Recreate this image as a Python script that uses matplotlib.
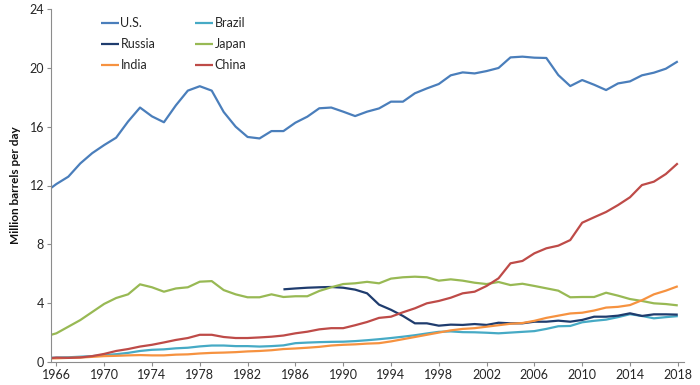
import numpy as np
import matplotlib
matplotlib.use("Agg")
import matplotlib.pyplot as plt

years = list(range(1965, 2019))

us = [11.5, 12.1, 12.6, 13.5, 14.2, 14.75, 15.25, 16.35, 17.3, 16.7,
      16.3, 17.45, 18.45, 18.75, 18.45, 17.0, 16.0, 15.3, 15.2, 15.7,
      15.7, 16.27, 16.68, 17.25, 17.3, 17.02, 16.72, 17.02, 17.24, 17.7,
      17.7, 18.27, 18.6, 18.9, 19.49, 19.69, 19.62, 19.78, 19.99, 20.71,
      20.76, 20.69, 20.67, 19.51, 18.76, 19.17, 18.85, 18.49, 18.94, 19.08,
      19.49, 19.67, 19.94, 20.44]

russia_from_1985 = [4.94, 5.0, 5.05, 5.08, 5.1, 5.05, 4.92, 4.67, 3.9, 3.55,
                    3.13, 2.63, 2.63, 2.47, 2.54, 2.52, 2.58, 2.52, 2.67, 2.63,
                    2.63, 2.74, 2.74, 2.81, 2.74, 2.86, 3.08, 3.08, 3.15, 3.31,
                    3.13, 3.24, 3.24, 3.22]
russia = [np.nan] * (len(years) - len(russia_from_1985)) + russia_from_1985

brazil = [0.28, 0.3, 0.32, 0.36, 0.4, 0.47, 0.53, 0.62, 0.75, 0.83,
          0.86, 0.93, 0.97, 1.06, 1.12, 1.12, 1.08, 1.08, 1.05, 1.08,
          1.13, 1.28, 1.32, 1.35, 1.37, 1.38, 1.42, 1.48, 1.55, 1.63,
          1.72, 1.82, 1.94, 2.05, 2.08, 2.03, 2.02, 1.99, 1.95, 2.0,
          2.05, 2.1, 2.25, 2.43, 2.45, 2.7, 2.8, 2.88, 3.05, 3.25,
          3.13, 2.97, 3.05, 3.12]

japan = [1.72, 1.95, 2.4, 2.85, 3.4, 3.95, 4.35, 4.6, 5.28, 5.08,
         4.78, 5.0, 5.08, 5.46, 5.5, 4.89, 4.6, 4.4, 4.4, 4.6,
         4.42, 4.47, 4.47, 4.83, 5.08, 5.3, 5.35, 5.45, 5.35, 5.67,
         5.76, 5.8, 5.76, 5.53, 5.62, 5.53, 5.39, 5.3, 5.44, 5.23,
         5.32, 5.17, 5.01, 4.85, 4.4, 4.42, 4.42, 4.71, 4.51, 4.28,
         4.15, 3.99, 3.94, 3.85]

india = [0.24, 0.25, 0.28, 0.3, 0.35, 0.4, 0.42, 0.45, 0.47, 0.45,
         0.45, 0.5, 0.52, 0.58, 0.62, 0.64, 0.67, 0.72, 0.75, 0.8,
         0.88, 0.92, 0.97, 1.03, 1.12, 1.17, 1.2, 1.25, 1.28, 1.4,
         1.55, 1.7, 1.85, 2.0, 2.15, 2.25, 2.3, 2.4, 2.5, 2.6,
         2.65, 2.8, 3.0, 3.15, 3.3, 3.35, 3.5, 3.7, 3.75, 3.87,
         4.2, 4.6, 4.85, 5.15]

china = [0.22, 0.3, 0.28, 0.31, 0.4, 0.55, 0.75, 0.88, 1.05, 1.17,
         1.33, 1.5, 1.63, 1.85, 1.85, 1.7, 1.63, 1.63, 1.67, 1.72,
         1.8, 1.95, 2.06, 2.22, 2.3, 2.3, 2.5, 2.72, 3.0, 3.08,
         3.38, 3.65, 3.99, 4.15, 4.37, 4.67, 4.78, 5.17, 5.69, 6.71,
         6.87, 7.39, 7.73, 7.91, 8.29, 9.47, 9.84, 10.2, 10.67, 11.2,
         12.03, 12.26, 12.78, 13.51]

series_names = ["U.S.", "Brazil", "Russia", "Japan", "India", "China"]
series_values = [us, brazil, russia, japan, india, china]
series_colors = ["#4A7EBB", "#46AAC5", "#1F3C6E", "#98B954", "#F69240", "#BE4B48"]

x_ticks = list(range(1966, 2019, 4))
y_ticks = [0, 4, 8, 12, 16, 20, 24]

plt.rcParams['font.family'] = ['Lato', 'DejaVu Sans']

fig = plt.figure(figsize=(7.0, 3.85), dpi=100)
ax = fig.add_axes([51 / 700, 23 / 385, 633 / 700, 353 / 385])

lines = {}
for name, vals, col in zip(series_names, series_values, series_colors):
    ln, = ax.plot(years, vals, color=col, lw=1.6, label=name,
                  solid_joinstyle='round', solid_capstyle='butt')
    lines[name] = ln

ax.set_xlim(1965.55, 2018.52)
ax.set_ylim(0, 24)
ax.set_xticks(x_ticks)
ax.set_xticklabels([str(t) for t in x_ticks])
ax.set_yticks(y_ticks)
ax.set_yticklabels([str(t) for t in y_ticks])

for s in ['top', 'right']:
    ax.spines[s].set_visible(False)
for s in ['left', 'bottom']:
    ax.spines[s].set_color('#8C8C8C')
    ax.spines[s].set_linewidth(0.8)
ax.tick_params(axis='both', direction='out', length=3, width=0.8,
               color='#8C8C8C', labelsize=9, labelcolor='#262626', pad=2)

ax.set_ylabel("Million barrels per day", fontsize=8.5, fontweight='bold',
              color='#111111', labelpad=6)

order = ["U.S.", "Russia", "India", "Brazil", "Japan", "China"]
leg = ax.legend([lines[n] for n in order], order, ncol=2, loc='upper left',
                bbox_to_anchor=(0.079, 0.977), frameon=False, fontsize=9,
                handlelength=1.45, handletextpad=0.1, columnspacing=3.2,
                labelspacing=0.72, borderpad=0, borderaxespad=0)
for t in leg.get_texts():
    t.set_color('#262626')

fig.savefig("out.png", dpi=100)
